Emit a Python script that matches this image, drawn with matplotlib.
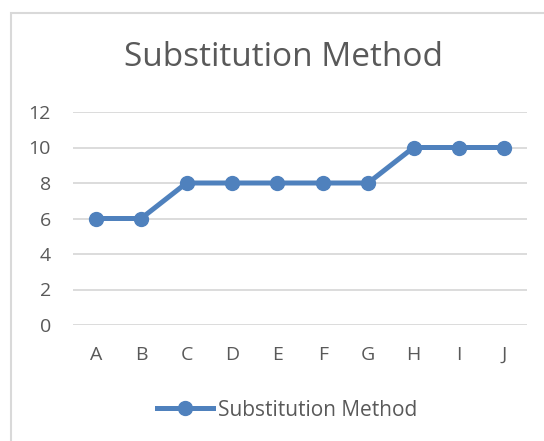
import matplotlib
matplotlib.use("Agg")
import matplotlib.pyplot as plt
from matplotlib.patches import Rectangle
from matplotlib.lines import Line2D

categories = ["A", "B", "C", "D", "E", "F", "G", "H", "I", "J"]
values = [6, 6, 8, 8, 8, 8, 8, 10, 10, 10]
yticks = [0, 2, 4, 6, 8, 10, 12]
title = "Substitution Method"
series_name = "Substitution Method"

W, H = 544, 441
fig = plt.figure(figsize=(W / 100, H / 100), dpi=100)
plt.rcParams['font.family'] = ['Open Sans', 'DejaVu Sans']
text_color = "#595959"
line_color = "#4F81BD"

# chart border
fig.patches.append(Rectangle((11 / W, -0.1), 1.2, 1 - 13 / H + 0.1, transform=fig.transFigure,
                             fill=False, edgecolor="#D9D9D9", linewidth=1.5))

ax = fig.add_axes([73 / W, 1 - 325 / H, (527 - 73) / W, (325 - 112) / H])
x = list(range(len(categories)))
ax.plot(x, values, color=line_color, linewidth=3.6, marker="o", markersize=10,
        solid_capstyle="round", zorder=3)
ax.set_xlim(-0.5, len(categories) - 0.5)
ax.set_ylim(0, 12)
ax.set_yticks(yticks)
ax.set_xticks(x)
ax.set_xticklabels(categories)
ax.grid(axis="y", color="#D9D9D9", linewidth=1.3)
ax.set_axisbelow(True)
for s in ax.spines.values():
    s.set_visible(False)
ax.tick_params(length=0, labelsize=14, colors=text_color)
ax.tick_params(axis="x", pad=15)
ax.tick_params(axis="y", pad=16)
for lbl in ax.get_yticklabels():
    lbl.set_horizontalalignment("right")

fig.text(284 / W, 1 - 57 / H, title, ha="center", va="center", fontsize=24, color=text_color)

handle = Line2D([], [], color=line_color, linewidth=3.6, marker="o", markersize=10)
fig.legend([handle], [series_name], loc="center", bbox_to_anchor=(287 / W, 1 - 410 / H),
           frameon=False, fontsize=15, labelcolor=text_color, handlelength=2.7,
           handletextpad=0.25)

fig.savefig("out.png", dpi=100)
